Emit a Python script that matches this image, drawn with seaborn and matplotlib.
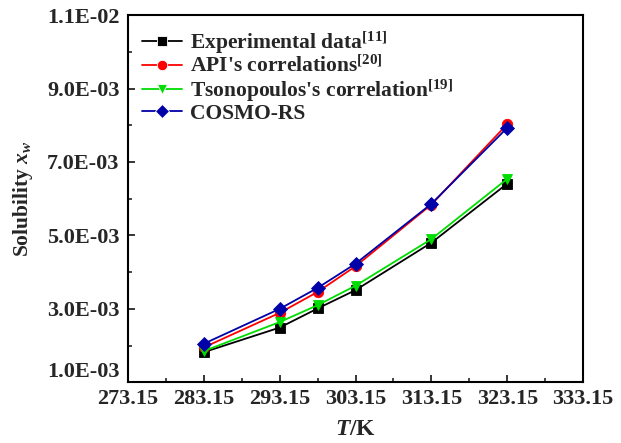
import numpy as np
import pandas as pd
import matplotlib
matplotlib.use("Agg")
import matplotlib.pyplot as plt
from matplotlib.ticker import FuncFormatter, FormatStrFormatter
import seaborn as sns

# Temperatures (K) and water solubility (mole fraction) for each source
temperature = [283.15, 293.15, 298.15, 303.15, 313.15, 323.15]
experimental = [1.82e-3, 2.49e-3, 3.01e-3, 3.51e-3, 4.80e-3, 6.41e-3]
api_corr = [1.95e-3, 2.89e-3, 3.46e-3, 4.16e-3, 5.84e-3, 8.03e-3]
tsonopoulos = [1.85e-3, 2.64e-3, 3.10e-3, 3.63e-3, 4.90e-3, 6.54e-3]
cosmo_rs = [2.05e-3, 3.00e-3, 3.57e-3, 4.23e-3, 5.86e-3, 7.93e-3]

series_names = [
    r"Experimental data$^{[11]}$",
    r"API's correlations$^{[20]}$",
    r"Tsonopoulos's correlation$^{[19]}$",
    "COSMO-RS",
]
series_values = [experimental, api_corr, tsonopoulos, cosmo_rs]
colors = ["#000000", "#FF0000", "#00DD00", "#0000A8"]
markers = ["s", "o", "v", "D"]

sns.set_theme(style="ticks")
plt.rcParams["font.family"] = ["Liberation Serif", "DejaVu Serif"]
plt.rcParams["font.weight"] = "bold"
plt.rcParams["mathtext.fontset"] = "custom"
plt.rcParams["mathtext.rm"] = "Liberation Serif:bold"
plt.rcParams["mathtext.it"] = "Liberation Serif:italic:bold"
plt.rcParams["mathtext.bf"] = "Liberation Serif:bold"

frames = []
for name, vals in zip(series_names, series_values):
    frames.append(pd.DataFrame({"T": temperature, "x": vals, "source": name}))
df = pd.concat(frames, ignore_index=True)

fig = plt.figure(figsize=(6.21, 4.43), dpi=100)
ax = fig.add_axes([0.206, 0.137, 0.733, 0.829])

sns.lineplot(
    data=df, x="T", y="x", hue="source", style="source",
    palette=dict(zip(series_names, colors)),
    markers=dict(zip(series_names, markers)),
    dashes=False, markersize=7.5, linewidth=1.3,
    markeredgewidth=0.6, ax=ax, legend="full",
)
for line, c in zip(ax.lines, colors):
    line.set_markeredgecolor(c)

ax.set_xlim(273.15, 333.15)
ax.set_ylim(1.0e-3, 1.1e-2)
ax.set_xticks(np.arange(273.15, 333.16, 10))
ax.set_xticks(np.arange(278.15, 333.16, 10), minor=True)
ax.xaxis.set_major_formatter(FormatStrFormatter("%.2f"))
ax.set_yticks(np.arange(1.0e-3, 1.11e-2, 2.0e-3))
ax.set_yticks(np.arange(2.0e-3, 1.1e-2, 2.0e-3), minor=True)
ax.yaxis.set_major_formatter(FuncFormatter(lambda v, p: f"{v:.1E}"))

ax.tick_params(axis="both", which="major", direction="in", length=5, width=1.3,
               labelsize=16)
ax.tick_params(axis="x", which="major", pad=5)
ax.tick_params(axis="y", which="major", pad=6)
ax.tick_params(axis="both", which="minor", direction="in", length=3, width=1.2)
for lab in ax.get_xticklabels() + ax.get_yticklabels():
    lab.set_fontweight("bold")
# keep the lowest y label clear of the first x label
ax.get_yticklabels()[0].set_verticalalignment("bottom")

for sp in ax.spines.values():
    sp.set_visible(True)
    sp.set_linewidth(1.5)
    sp.set_color("black")

ax.set_xlabel(r"$T$/K", fontsize=17, fontweight="bold", labelpad=7)
ax.set_ylabel(r"Solubility $x_{w}$", fontsize=15.5, fontweight="bold", labelpad=9)

handles, labels = ax.get_legend_handles_labels()
leg = ax.legend(handles, labels, loc="upper left", frameon=False, fontsize=15.5,
                handlelength=1.85, handletextpad=0.37, labelspacing=0.0,
                borderpad=0.3, borderaxespad=0.35, bbox_to_anchor=(0.0, 1.0))
for t in leg.get_texts():
    t.set_fontweight("bold")

fig.savefig("out.png", dpi=100)
